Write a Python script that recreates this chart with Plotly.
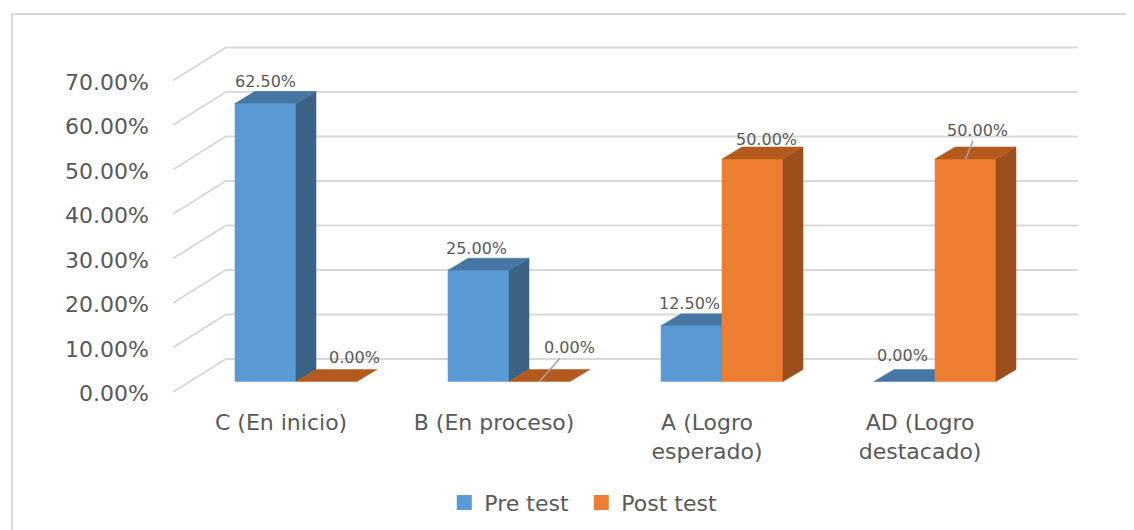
import plotly.graph_objects as go

# ---------------- data ----------------
categories = ["C (En inicio)", "B (En proceso)", "A (Logro<br>esperado)", "AD (Logro<br>destacado)"]
series_names = ["Pre test", "Post test"]
pre_test = [62.5, 25.0, 12.5, 0.0]
post_test = [0.0, 0.0, 50.0, 50.0]
y_ticks = [0, 10, 20, 30, 40, 50, 60, 70]
y_tick_labels = [f"{t:.2f}%" for t in y_ticks]

# ---------------- style / pseudo-3D geometry ----------------
FONT = "DejaVu Sans"
TXT = "#595959"
GRID = "#d9d9d9"
front_col = ["#5b9bd5", "#ed7d31"]
top_col = ["#4676a3", "#b45a1f"]
side_col = ["#3a6386", "#9b4f1d"]

BAR_W = 0.2864          # width of one bar (category units)
DEPTH_X = 0.094         # bar depth, x component (category units)
DEPTH_Y = 2.7           # bar depth, y component (percent units)
WALL_X0 = -0.329        # left end of back-wall gridlines
FLOOR_X0 = -0.577       # left end of side-wall diagonals
WALL_X1 = 3.671         # right end of back-wall gridlines
BACK_DY = 5.06          # back wall offset (percent units)
FRONT_DY = -2.36        # front edge offset (percent units)
CAT_LABEL_SHIFT = -0.07

# label nudges in pixels (dx, dy up) and whether a leader line is drawn
label_shift = [
    [(0, 0), (-2, 0), (-2, 0), (-2, 4)],
    [(28, 2), (30, 12), (14, -3), (12, 7)],
]
label_leader = [
    [False, False, False, False],
    [False, True, False, True],
]

fig = go.Figure()

# gridlines: side-wall diagonal + back-wall horizontal
gx, gy = [], []
for t in y_ticks:
    gx += [FLOOR_X0, WALL_X0, WALL_X1, None]
    gy += [t + FRONT_DY, t + BACK_DY, t + BACK_DY, None]
fig.add_trace(go.Scatter(x=gx, y=gy, mode="lines", line=dict(color=GRID, width=2),
                         hoverinfo="skip", showlegend=False))


def poly(xs, ys, color):
    fig.add_trace(go.Scatter(x=xs + [xs[0]], y=ys + [ys[0]], mode="lines", fill="toself",
                             fillcolor=color, line=dict(color=color, width=0.5),
                             hoverinfo="skip", showlegend=False))


series = [pre_test, post_test]
annotations = []
for k in range(len(categories)):
    for s, vals in enumerate(series):
        v = vals[k]
        x0 = k - BAR_W if s == 0 else k
        x1 = x0 + BAR_W
        if v > 0:
            # front face
            poly([x0, x1, x1, x0], [0, 0, v, v], front_col[s])
            # side face
            poly([x1, x1 + DEPTH_X, x1 + DEPTH_X, x1], [0, DEPTH_Y, v + DEPTH_Y, v], side_col[s])
        # top face
        poly([x0, x1, x1 + DEPTH_X, x0 + DEPTH_X], [v, v, v + DEPTH_Y, v + DEPTH_Y], top_col[s])

        dx, dy = label_shift[s][k]
        xc = (x0 + x1) / 2
        text = f"{v:.2f}%"
        if label_leader[s][k]:
            annotations.append(dict(x=xc, y=v, xref="x", yref="y", text=text,
                                    showarrow=True, arrowhead=0, arrowwidth=1.6,
                                    arrowcolor="#a6a6a6", ax=dx, ay=-(22 + dy),
                                    font=dict(family=FONT, size=16, color=TXT)))
        else:
            annotations.append(dict(x=xc, y=v + DEPTH_Y, xref="x", yref="y", text=text,
                                    showarrow=False, xshift=dx, yshift=10 + dy,
                                    yanchor="middle", xanchor="center",
                                    font=dict(family=FONT, size=16, color=TXT)))

# legend entries
for s, name in enumerate(series_names):
    fig.add_trace(go.Scatter(x=[None], y=[None], mode="markers", name=name,
                             marker=dict(symbol="square", size=15, color=front_col[s])))

fig.update_layout(
    width=1126, height=522,
    margin=dict(l=142, r=34, t=12, b=125, autoexpand=False),
    paper_bgcolor="white", plot_bgcolor="white",
    font=dict(family=FONT, color=TXT),
    annotations=annotations,
    showlegend=True,
    legend=dict(orientation="h", x=0.454, xanchor="center", y=-0.254, yanchor="middle",
                font=dict(family=FONT, size=22, color=TXT), traceorder="normal",
                entrywidth=92, entrywidthmode="pixels"),
    xaxis=dict(range=[-0.6854, 3.7746], tickvals=[k + CAT_LABEL_SHIFT for k in range(len(categories))],
               ticktext=categories, showgrid=False, zeroline=False, showline=False, ticks="",
               ticklabelstandoff=2,
               tickfont=dict(family=FONT, size=22, color=TXT), fixedrange=True),
    yaxis=dict(range=[-5.281, 81.236], tickvals=[t + FRONT_DY - 0.35 for t in y_ticks],
               ticktext=y_tick_labels, showgrid=False, zeroline=False, showline=False, ticks="",
               tickfont=dict(family=FONT, size=22, color=TXT), fixedrange=True),
    shapes=[dict(type="rect", xref="paper", yref="paper",
                 x0=(12 - 150) / 950, x1=(1160 - 150) / 950,
                 y0=(405 - 560) / 385, y1=(405 - 14) / 385,
                 line=dict(color="#d9d9d9", width=2), fillcolor="rgba(0,0,0,0)", layer="below")],
)

fig.write_html("out.html")
